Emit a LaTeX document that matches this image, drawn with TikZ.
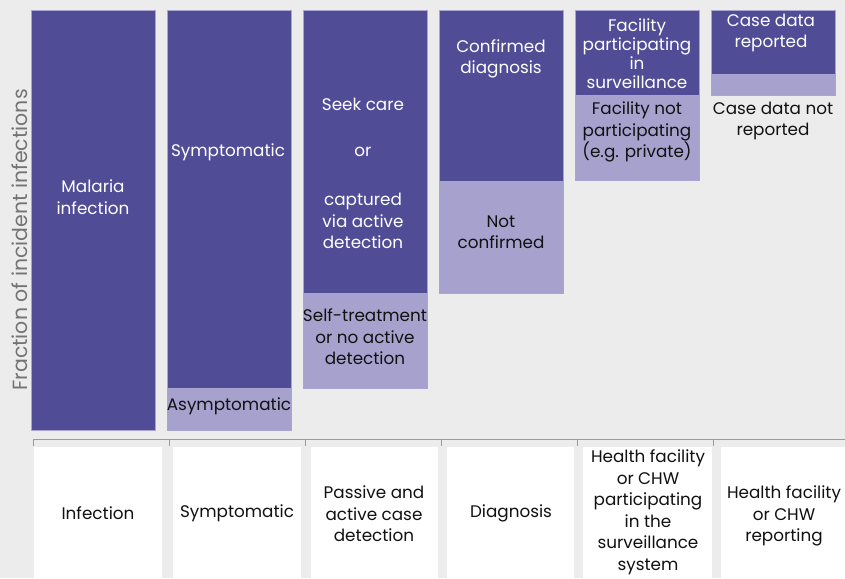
\documentclass[tikz,border=0pt]{standalone}
\usepackage{fontspec}
\setmainfont{Poppins}
\definecolor{bg}{HTML}{ECECEC}
\definecolor{dk}{HTML}{514C96}
\definecolor{lt}{HTML}{A7A1CD}
\definecolor{bd}{HTML}{A9A4D0}
\definecolor{ax}{HTML}{9A9A9A}
\definecolor{tx}{HTML}{111111}
\begin{document}
\begin{tikzpicture}[x=1pt,y=-1pt,
  bar/.style={anchor=north west,inner sep=0pt,minimum width=124pt,draw=bd,line width=0.6pt},
  darkbar/.style={bar,fill=dk},
  lightbar/.style={bar,fill=lt},
  wlab/.style={text=white,font=\fontsize{16.8}{21.5}\selectfont,align=center,inner sep=0pt},
  blab/.style={text=tx,font=\fontsize{16.8}{21.5}\selectfont,align=center,inner sep=0pt},
  wbox/.style={anchor=north west,fill=white,inner sep=0pt,minimum height=131pt},
  tick/.style={draw=ax,line width=1pt}]
\fill[bg] (0,0) rectangle (845,578);
\useasboundingbox (0,0) rectangle (845,578);
% bars
\node[darkbar,minimum height=420pt] (d1) at (31,10) {};
\node[darkbar,minimum height=378pt] (d2) at (167,10) {};
\node[lightbar,minimum height=42pt] (l2) at (167,388) {};
\node[darkbar,minimum height=283pt] (d3) at (303,10) {};
\node[lightbar,minimum height=95pt] (l3) at (303,293) {};
\node[darkbar,minimum height=171pt] (d4) at (439,10) {};
\node[lightbar,minimum height=112pt] (l4) at (439,181) {};
\node[darkbar,minimum height=85pt] (d5) at (575,10) {};
\node[lightbar,minimum height=85pt] (l5) at (575,95) {};
\node[darkbar,minimum height=64pt] (d6) at (711,10) {};
\node[lightbar,minimum height=21pt] (l6) at (711,74) {};
% bar labels
\node[wlab] (t1) at (93,197) {Malaria\\infection};
\node[wlab] (t2) at (228,152) {Symptomatic};
\node[blab] (t2b) at (229,406) {Asymptomatic};
\node[wlab] (t3a) at (363,104) {Seek care};
\node[wlab] (t3b) at (363,152) {or};
\node[wlab] (t3c) at (363,221) {captured\\via active\\detection};
\node[blab] (t3d) at (365,337) {Self-treatment\\or no active\\detection};
\node[wlab] (t4) at (501,59) {Confirmed\\diagnosis};
\node[blab] (t4b) at (501,232) {Not\\confirmed};
\node[wlab,font=\fontsize{16.8}{19}\selectfont] (t5) at (637,54) {Facility\\participating\\in\\surveillance};
\node[blab] (t5b) at (637,132) {Facility not\\participating\\(e.g. private)};
\node[wlab] (t6) at (771,33) {Case data\\reported};
\node[blab] (t6b) at (773,121) {Case data not\\reported};
% axis label
\node[rotate=90,text=ax!75!black,font=\fontsize{20.5}{24}\selectfont,inner sep=0pt] (ylab) at (20,240) {Fraction of incident infections};
% axis line and ticks
\coordinate (a0) at (33,439);
\coordinate (a1) at (845,439);
\draw[tick] (a0) -- (a1);
\foreach \x in {33,169,305,441,577,713} {\draw[tick] (\x,439) -- (\x,446);}
% bottom boxes
\node[wbox,minimum width=128pt] (b1) at (34,447) {};
\node[wbox,minimum width=128pt] (b2) at (173,447) {};
\node[wbox,minimum width=127pt] (b3) at (311,447) {};
\node[wbox,minimum width=127pt] (b4) at (447,447) {};
\node[wbox,minimum width=129pt] (b5) at (583,447) {};
\node[wbox,minimum width=124pt] (b6) at (721,447) {};
\node[blab] (s1) at (98,513) {Infection};
\node[blab] (s2) at (237,513) {Symptomatic};
\node[blab] (s3) at (374,514) {Passive and\\active case\\detection};
\node[blab] (s4) at (511,513) {Diagnosis};
\node[blab] (s5) at (648,512) {Health facility\\or CHW\\participating\\in the\\surveillance\\system};
\node[blab] (s6) at (784,516) {Health facility\\or CHW\\reporting};
\end{tikzpicture}
\end{document}
